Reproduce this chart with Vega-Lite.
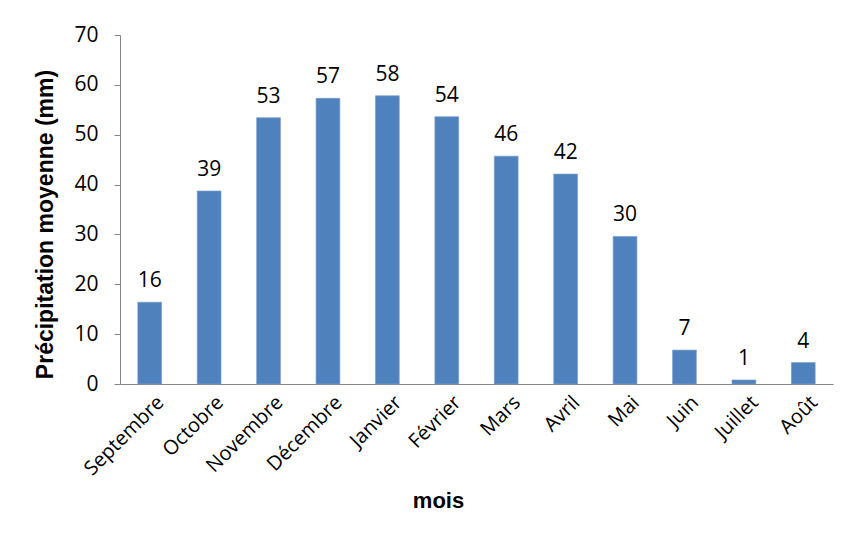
{
  "$schema": "https://vega.github.io/schema/vega-lite/v6.json",
  "autosize": "none",
  "width": 713,
  "height": 349,
  "padding": {"left": 120, "top": 35, "right": 20, "bottom": 156},
  "background": "white",
  "config": {
    "view": {"stroke": null},
    "axis": {"grid": false, "domainColor": "#868686", "tickColor": "#868686", "labelColor": "#000000", "titleColor": "#000000"}
  },
  "data": {
    "values": [
      {"mois": "Septembre", "precip": 16.4},
      {"mois": "Octobre", "precip": 38.7},
      {"mois": "Novembre", "precip": 53.4},
      {"mois": "Décembre", "precip": 57.3},
      {"mois": "Janvier", "precip": 57.8},
      {"mois": "Février", "precip": 53.6},
      {"mois": "Mars", "precip": 45.7},
      {"mois": "Avril", "precip": 42.1},
      {"mois": "Mai", "precip": 29.6},
      {"mois": "Juin", "precip": 6.8},
      {"mois": "Juillet", "precip": 0.8},
      {"mois": "Août", "precip": 4.3}
    ]
  },
  "encoding": {
    "x": {
      "field": "mois",
      "type": "nominal",
      "sort": null,
      "scale": {"paddingInner": 0.6, "paddingOuter": 0.3},
      "axis": {
        "title": "mois",
        "titleFont": "Liberation Sans",
        "titleFontSize": 22,
        "titleFontWeight": "bold",
        "titleX": 318,
        "titleY": 123,
        "titleBaseline": "alphabetic",
        "labelAngle": -45,
        "labelFont": "Open Sans",
        "labelFontSize": 20,
        "labelPadding": 8,
        "labelOffset": 4,
        "ticks": false
      }
    },
    "y": {
      "field": "precip",
      "type": "quantitative",
      "scale": {"domain": [0, 70]},
      "axis": {
        "title": "Précipitation moyenne  (mm)",
        "titleFont": "Liberation Sans",
        "titleFontSize": 23,
        "titleFontWeight": "bold",
        "titleX": -75,
        "titleY": 189,
        "titleAlign": "center",
        "titleBaseline": "middle",
        "values": [0, 10, 20, 30, 40, 50, 60, 70],
        "labelFont": "Open Sans",
        "labelFontSize": 21,
        "labelPadding": 16,
        "tickSize": 6
      }
    }
  },
  "layer": [
    {"mark": {"type": "bar", "color": "#4F81BD", "stroke": "#7A9DCB", "strokeWidth": 0.7}},
    {
      "mark": {"type": "text", "baseline": "alphabetic", "dy": -15, "font": "Open Sans", "fontSize": 21, "color": "#000000"},
      "encoding": {"text": {"field": "precip", "type": "quantitative", "format": ".0f"}}
    }
  ]
}
